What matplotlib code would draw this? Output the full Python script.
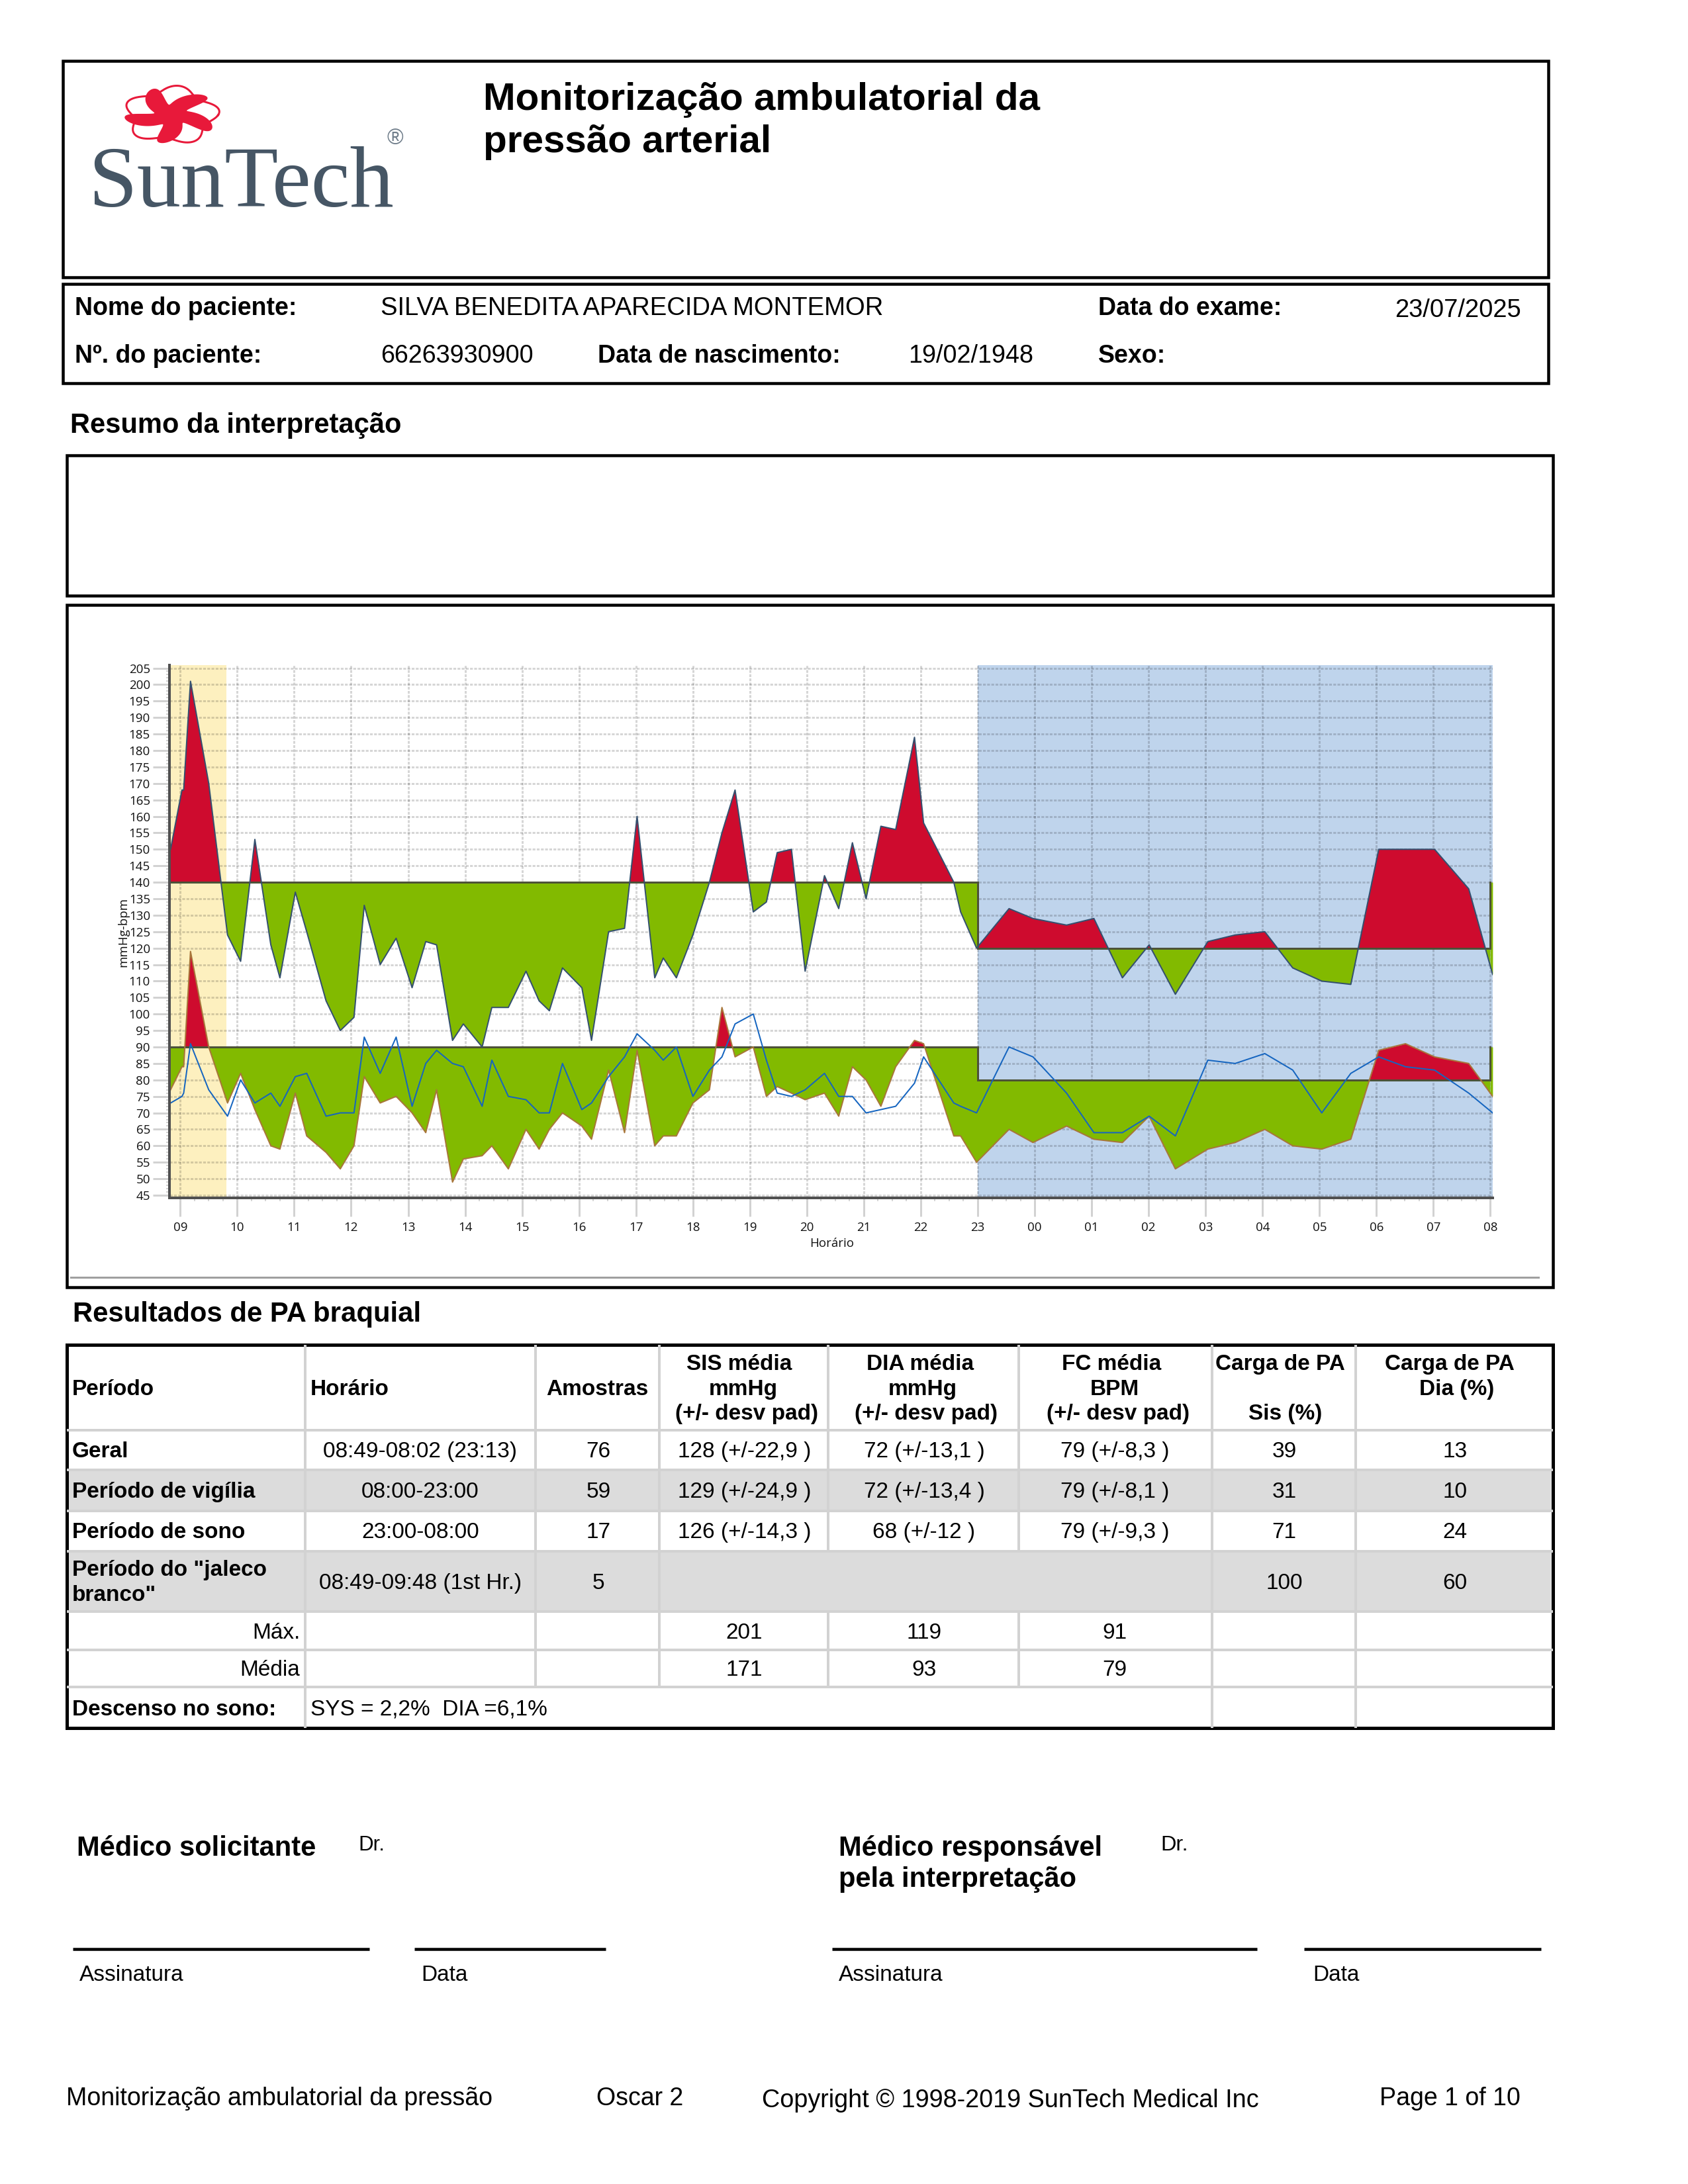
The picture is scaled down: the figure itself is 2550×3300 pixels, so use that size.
"""Recreate the SunTech ABPM report page."""

import matplotlib

matplotlib.use("Agg")
import matplotlib.pyplot as plt
import numpy as np
from matplotlib.patches import Rectangle, Polygon

plt.rcParams["font.family"] = ["Liberation Sans", "DejaVu Sans"]

PAGE_W = 2550
PAGE_H = 3300
DPI = 300

# hours counted from midnight of the first day, 76 readings
hours = np.array([
    8.83, 9.03, 9.06, 9.18, 9.5, 9.83, 10.06, 10.31, 10.59, 10.75,
    11.02, 11.22, 11.56, 11.81, 12.05, 12.23, 12.51, 12.79, 13.07, 13.31,
    13.5, 13.78, 13.97, 14.3, 14.47, 14.76, 15.07, 15.3, 15.48, 15.71,
    16.05, 16.22, 16.52, 16.8, 17.02, 17.33, 17.48, 17.71, 18.0, 18.29,
    18.51, 18.74, 19.06, 19.29, 19.48, 19.73, 19.97, 20.31, 20.56, 20.8,
    21.04, 21.3, 21.56, 21.89, 22.05, 22.58, 22.7, 22.98,
    23.55, 23.97, 24.56, 25.04, 25.54, 26.01, 26.47, 27.04, 27.52, 28.04,
    28.53, 29.04, 29.55, 30.04, 30.51, 31.02, 31.62, 32.04,
])
systolic = np.array([
    150, 168, 168, 201, 170, 124, 116, 153, 121, 111,
    137, 125, 104, 95, 99, 133, 115, 123, 108, 122,
    121, 92, 97, 90, 102, 102, 113, 104, 101, 114,
    108, 92, 125, 126, 160, 111, 117, 111, 124, 140,
    155, 168, 131, 134, 149, 150, 113, 142, 132, 152,
    135, 157, 156, 184, 158, 140, 131, 120,
    132, 129, 127, 129, 111, 121, 106, 122, 124, 125,
    114, 110, 109, 150, 150, 150, 138, 112,
], dtype=float)
diastolic = np.array([
    77, 84, 84, 119, 90, 73, 82, 71, 60, 59,
    76, 63, 58, 53, 60, 81, 73, 75, 70, 64,
    77, 49, 56, 57, 60, 53, 65, 59, 65, 70,
    66, 62, 83, 64, 89, 60, 63, 63, 73, 77,
    102, 87, 90, 75, 78, 76, 74, 76, 69, 84,
    80, 72, 84, 92, 91, 63, 63, 55,
    65, 61, 66, 62, 61, 69, 53, 59, 61, 65,
    60, 59, 62, 89, 91, 87, 85, 75,
], dtype=float)
heart_rate = np.array([
    73, 75, 76, 91, 77, 69, 80, 73, 76, 72,
    81, 82, 69, 70, 70, 93, 82, 93, 72, 85,
    89, 85, 84, 72, 86, 75, 74, 70, 70, 85,
    71, 73, 81, 87, 94, 89, 86, 90, 75, 83,
    87, 97, 100, 86, 76, 75, 77, 82, 75, 75,
    70, 71, 72, 79, 87, 73, 72, 70,
    90, 87, 76, 64, 64, 69, 63, 86, 85, 88,
    83, 70, 82, 87, 84, 83, 76, 70,
], dtype=float)

SLEEP_START = 23.0
SLEEP_END = 32.0
WHITE_COAT_END = 9.81
SYS_LIMITS = (140, 120)
DIA_LIMITS = (90, 80)
hour_labels = ["09", "10", "11", "12", "13", "14", "15", "16", "17", "18", "19", "20",
               "21", "22", "23", "00", "01", "02", "03", "04", "05", "06", "07", "08"]

table_header = ["Período", "Horário", "Amostras"]
stat_headers = [
    ("SIS média", "mmHg", "(+/- desv pad)"),
    ("DIA média", "mmHg", "(+/- desv pad)"),
    ("FC média", "BPM", "(+/- desv pad)"),
    ("Carga de PA", "", "Sis (%)"),
    ("Carga de PA", "Dia (%)", ""),
]
row_names = ["Geral", "Período de vigília", "Período de sono"]
row_times = ["08:49-08:02 (23:13)", "08:00-23:00", "23:00-08:00"]
row_samples = ["76", "59", "17"]
row_sis = ["128 (+/-22,9 )", "129 (+/-24,9 )", "126 (+/-14,3 )"]
row_dia = ["72 (+/-13,1 )", "72 (+/-13,4 )", "68 (+/-12 )"]
row_fc = ["79 (+/-8,3 )", "79 (+/-8,1 )", "79 (+/-9,3 )"]
row_load_sis = ["39", "31", "71"]
row_load_dia = ["13", "10", "24"]
max_values = ["201", "119", "91"]
mean_values = ["171", "93", "79"]

RED = "#CE0B2E"
GREEN = "#82BA00"
LINE_GREY = "#D2D2D2"


def px(value):
    """Line width in points from a width in page pixels."""
    return value * 72 / DPI


def fill_against_limit(ax, values, periods):
    """Fill red above the limit and green below it, one period at a time."""
    for start, end, limit in periods:
        inside = (hours > start) & (hours < end)
        xs = np.concatenate(([start], hours[inside], [end]))
        ys = np.interp(xs, hours, values)
        ax.fill_between(xs, ys, limit, where=ys >= limit, interpolate=True,
                        color=RED, linewidth=0, zorder=3)
        ax.fill_between(xs, ys, limit, where=ys <= limit, interpolate=True,
                        color=GREEN, linewidth=0, zorder=3)


def draw_limit(ax, limits):
    day, night = limits
    ax.plot([hours[0], SLEEP_START, SLEEP_START, SLEEP_END, SLEEP_END],
            [day, day, night, night, day],
            color="#4D5238", linewidth=px(3), solid_joinstyle="miter", zorder=4)


def draw_chart(fig):
    left, right, top, bottom = 256, 2255, 1005, 1810
    ax = fig.add_axes([left / PAGE_W, 1 - bottom / PAGE_H,
                       (right - left) / PAGE_W, (bottom - top) / PAGE_H])
    ax.patch.set_alpha(0)
    ax.set_xlim(9 + (left - 272.3) / 86.05, 9 + (right - 272.3) / 86.05)
    ax.set_ylim(45 - (bottom - 1806) / 4.978, 205 + (1009.5 - top) / 4.978)

    ax.axvspan(ax.get_xlim()[0], WHITE_COAT_END, color="#FDF0BF", linewidth=0, zorder=0)
    ax.axvspan(SLEEP_START, ax.get_xlim()[1], color="#BFD4EC", linewidth=0, zorder=0)

    hour_ticks = np.arange(9, 33)
    ax.set_xticks(hour_ticks, hour_labels)
    ax.set_xticks(np.arange(9, 32.01, 0.25), minor=True)
    ax.set_yticks(np.arange(45, 206, 5))
    ax.set_yticks(np.arange(45, 206, 1), minor=True)
    ax.tick_params(axis="both", which="major", color=LINE_GREY, width=px(3),
                   length=px(25), labelsize=4.5, labelfontfamily="Open Sans", pad=px(4),
                   labelcolor="#111111")
    ax.tick_params(axis="x", which="major", length=px(28), pad=px(8))
    ax.tick_params(axis="both", which="minor", color=LINE_GREY, width=px(2), length=px(5))
    ax.grid(True, which="major", color="black", alpha=0.16, linewidth=px(3),
            linestyle=(0, (1.4, 0.7)), zorder=1)
    ax.set_axisbelow(True)

    for side in ("top", "right"):
        ax.spines[side].set_visible(False)
    for side in ("left", "bottom"):
        ax.spines[side].set_color("#505050")
        ax.spines[side].set_linewidth(px(4))
        ax.spines[side].set_zorder(6)

    sys_periods = [(hours[0], SLEEP_START, SYS_LIMITS[0]),
                   (SLEEP_START, SLEEP_END, SYS_LIMITS[1]),
                   (SLEEP_END, hours[-1], SYS_LIMITS[0])]
    dia_periods = [(hours[0], SLEEP_START, DIA_LIMITS[0]),
                   (SLEEP_START, SLEEP_END, DIA_LIMITS[1]),
                   (SLEEP_END, hours[-1], DIA_LIMITS[0])]
    fill_against_limit(ax, systolic, sys_periods)
    fill_against_limit(ax, diastolic, dia_periods)
    draw_limit(ax, SYS_LIMITS)
    draw_limit(ax, DIA_LIMITS)

    ax.plot(hours, systolic, color="#34506F", linewidth=px(2), zorder=5)
    ax.plot(hours, diastolic, color="#A8763A", linewidth=px(2), zorder=5)
    ax.plot(hours, heart_rate, color="#1565C0", linewidth=px(2), zorder=6)


def box(page, x0, y0, x1, y1, width=4.5, color="black"):
    page.add_patch(Rectangle((x0, y0), x1 - x0, y1 - y0, fill=False, edgecolor=color,
                             linewidth=px(width), joinstyle="miter"))


def put(page, x, y, text, size=8, bold=False, ha="left", **kwargs):
    page.text(x, y, text, fontsize=size, fontweight="bold" if bold else "normal",
              ha=ha, va="baseline", color="black", **kwargs)


def draw_logo(page):
    # pinwheel mark, then the word in serif type
    cx, cy = 258.6, 174
    theta = np.linspace(0, 2 * np.pi, 500)
    radius = 0.36 + 0.62 * np.abs(np.cos(2.5 * theta)) ** 1.8
    swirl = theta + 0.55 * radius
    page.add_patch(Polygon(np.column_stack([cx + 72 * radius * np.cos(swirl),
                                            cy + 44 * radius * np.sin(swirl)]),
                           closed=True, color="#E8193A", linewidth=0))
    outer = 0.9 + 0.12 * np.cos(5 * theta + 0.8)
    page.plot(cx + 72 * outer * np.cos(theta), cy + 44 * outer * np.sin(theta),
              color="#E8193A", linewidth=px(3))
    page.text(133, 312, "SunTech", family="Liberation Serif", fontsize=31.8,
              color="#465665", ha="left", va="baseline")
    page.text(597, 209, "®", fontsize=8, color="#6F7D8A", ha="center", va="center")


def draw_table(page):
    left, right = 101, 2346
    col_x = [461, 809, 996, 1251, 1539, 1831, 2048]
    row_y = [2032, 2161, 2221, 2283, 2344, 2435, 2493, 2549, 2611]

    page.add_patch(Rectangle((left, row_y[2]), right - left, row_y[3] - row_y[2],
                             color="#DCDCDC", linewidth=0))
    page.add_patch(Rectangle((left, row_y[4]), right - left, row_y[5] - row_y[4],
                             color="#DCDCDC", linewidth=0))
    for y in row_y[1:-1]:
        page.plot([left, right], [y, y], color=LINE_GREY, linewidth=px(4),
                  solid_capstyle="butt")
    for x in col_x:
        if x in (1251, 1539):
            # these two stop at the white-coat row and at the sleep-dip row
            segments = [(row_y[0], row_y[4]), (row_y[5], row_y[7])]
        elif x in (809, 996):
            segments = [(row_y[0], row_y[7])]
        else:
            segments = [(row_y[0], row_y[8])]
        for y0, y1 in segments:
            page.plot([x, x], [y0, y1], color=LINE_GREY, linewidth=px(4),
                      solid_capstyle="butt")
    box(page, left, row_y[0], right, row_y[8], width=5)

    put(page, 109, 2108, table_header[0], bold=True)
    put(page, 469, 2108, table_header[1], bold=True)
    put(page, 902, 2108, table_header[2], bold=True, ha="center")

    # the header lines in the source drift right from one line to the next
    header_centers = [(1117, 1123, 1128), (1390, 1394, 1399), (1679, 1684, 1689),
                      (1934, 1934, 1942), (2190, 2201, 2201)]
    for centers, lines in zip(header_centers, stat_headers):
        for y, center, line in zip((2070, 2108, 2145), centers, lines):
            if line:
                put(page, center, y, line, bold=True, ha="center")

    for index, y in enumerate((2202, 2263, 2324)):
        put(page, 109, y, row_names[index], bold=True)
        put(page, 635, y, row_times[index], ha="center")
        put(page, 904, y, row_samples[index], ha="center")
        put(page, 1125, y, row_sis[index], ha="center")
        put(page, 1396, y, row_dia[index], ha="center")
        put(page, 1684, y, row_fc[index], ha="center")
        put(page, 1940, y, row_load_sis[index], ha="center")
        put(page, 2198, y, row_load_dia[index], ha="center")

    put(page, 109, 2381, 'Período do "jaleco', bold=True)
    put(page, 109, 2419, 'branco"', bold=True)
    put(page, 635, 2401, "08:49-09:48 (1st Hr.)", ha="center")
    put(page, 904, 2401, "5", ha="center")
    put(page, 1940, 2401, "100", ha="center")
    put(page, 2198, 2401, "60", ha="center")

    put(page, 453, 2476, "Máx.", ha="right")
    put(page, 453, 2532, "Média", ha="right")
    for center, high, mean in zip((1124, 1396, 1684), max_values, mean_values):
        put(page, center, 2476, high, ha="center")
        put(page, center, 2532, mean, ha="center")

    put(page, 109, 2592, "Descenso no sono:", bold=True)
    put(page, 469, 2592, "SYS = 2,2%  DIA =6,1%")


def main():
    fig = plt.figure(figsize=(PAGE_W / DPI, PAGE_H / DPI), dpi=DPI, facecolor="white")
    page = fig.add_axes([0, 0, 1, 1])
    page.set_xlim(0, PAGE_W)
    page.set_ylim(PAGE_H, 0)
    page.axis("off")

    box(page, 95, 92, 2339, 419)
    box(page, 95, 429, 2339, 579)
    box(page, 101, 688, 2346, 900)
    box(page, 101, 914, 2346, 1945)

    draw_logo(page)
    put(page, 730, 166, "Monitorização ambulatorial da", size=14, bold=True)
    put(page, 730, 230, "pressão arterial", size=14, bold=True)

    put(page, 113, 476, "Nome do paciente:", size=9, bold=True)
    put(page, 575, 476, "SILVA BENEDITA APARECIDA MONTEMOR", size=9.2)
    put(page, 1659, 476, "Data do exame:", size=9, bold=True)
    put(page, 2107, 479, "23/07/2025", size=9.15)
    put(page, 113, 548, "Nº. do paciente:", size=9, bold=True)
    put(page, 575, 548, "66263930900", size=9.05)
    put(page, 903, 548, "Data de nascimento:", size=9, bold=True)
    put(page, 1372, 548, "19/02/1948", size=9.05)
    put(page, 1659, 548, "Sexo:", size=9, bold=True)

    put(page, 106, 654, "Resumo da interpretação", size=10, bold=True)

    draw_chart(fig)
    page.text(186, 1408, "mmHg-bpm", fontsize=4.5, family="Open Sans", rotation=90,
              ha="center", va="center", color="#111111")
    page.text(1257, 1879, "Horário", fontsize=4.5, family="Open Sans",
              ha="center", va="center", color="#111111")
    page.plot([107, 2324], [1930, 1930], color="#A0A0A0", linewidth=px(3))

    put(page, 110, 1997, "Resultados de PA braquial", size=10.05, bold=True)
    draw_table(page)

    put(page, 116, 2804, "Médico solicitante", size=10, bold=True)
    put(page, 541, 2796, "Dr.", size=7.5)
    put(page, 1267, 2804, "Médico responsável", size=10, bold=True)
    put(page, 1267, 2851, "pela interpretação", size=10, bold=True)
    put(page, 1753, 2796, "Dr.", size=7.8)

    for x0, x1 in ((110, 558), (626, 915), (1257, 1899), (1970, 2328)):
        page.plot([x0, x1], [2945, 2945], color="black", linewidth=px(4.5),
                  solid_capstyle="butt")
    put(page, 120, 2993, "Assinatura")
    put(page, 636, 2993, "Data")
    put(page, 1267, 2993, "Assinatura")
    put(page, 1983, 2993, "Data")

    put(page, 100, 3181, "Monitorização ambulatorial da pressão", size=9)
    put(page, 901, 3181, "Oscar 2", size=9)
    put(page, 1151, 3184, "Copyright © 1998-2019 SunTech Medical Inc", size=9.05)
    put(page, 2084, 3181, "Page 1 of 10", size=9)

    fig.savefig("out.png", dpi=DPI)
    plt.close(fig)


if __name__ == "__main__":
    main()
